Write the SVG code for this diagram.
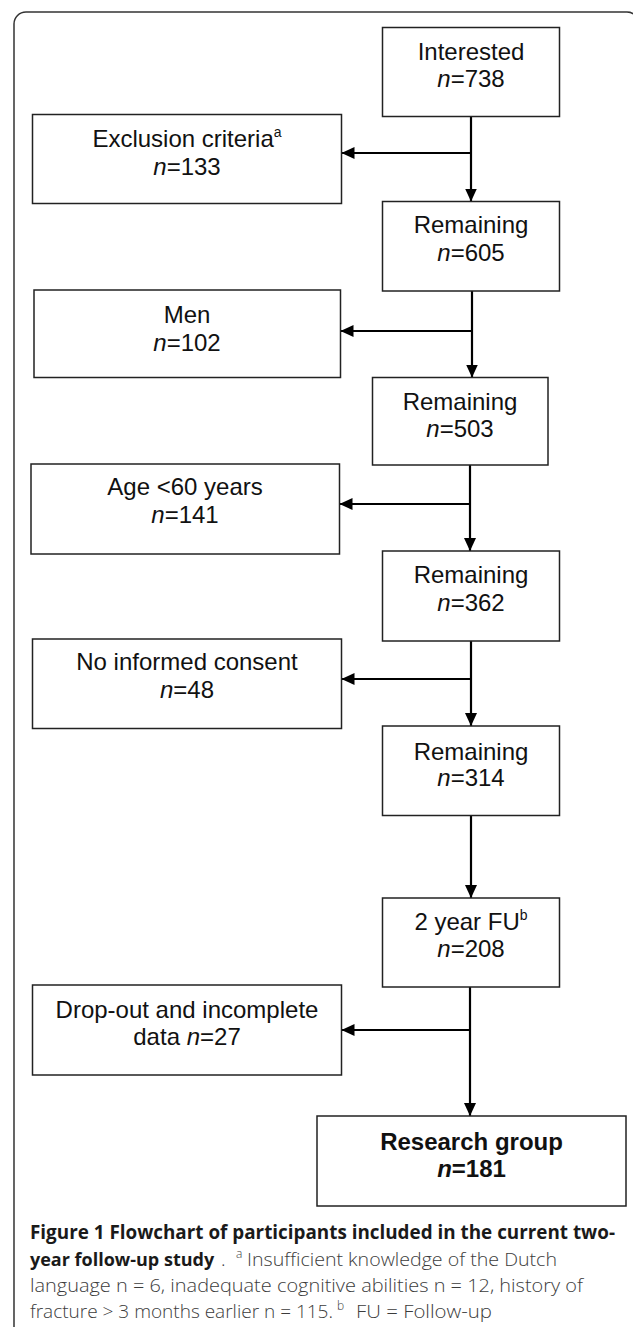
<svg xmlns="http://www.w3.org/2000/svg" width="633" height="1327" viewBox="0 0 633 1327">
<defs>
<style>
.box{fill:#fff;stroke:#222;stroke-width:1.5}
.t{font-family:"Liberation Sans",Arial,sans-serif;font-size:24px;fill:#111;text-anchor:middle}
.i{font-style:italic}
.sup{font-size:14px}
.b{font-weight:bold}
.conn line{stroke:#000;stroke-width:2.2}
.cap{font-family:"Open Sans","Noto Sans",sans-serif;font-size:19px}
.capb{font-weight:bold;fill:#1a1a1a}
.capr{font-weight:300;fill:#3c3c3c}
</style>
<marker id="ah" markerUnits="userSpaceOnUse" markerWidth="14" markerHeight="14" refX="13" refY="6" orient="auto">
<path d="M0,0 L13,6 L0,12 Z" fill="#000"/>
</marker>
</defs>
<rect x="14" y="12" width="625" height="1400" rx="12" fill="none" stroke="#333" stroke-width="1.5"/>
<g class="conn">
<line x1="471" y1="117" x2="471" y2="201.5" marker-end="url(#ah)"/>
<line x1="471" y1="153" x2="341.5" y2="153" marker-end="url(#ah)"/>
<line x1="472" y1="291" x2="472" y2="377.5" marker-end="url(#ah)"/>
<line x1="472" y1="331" x2="340.5" y2="331" marker-end="url(#ah)"/>
<line x1="470" y1="465" x2="470" y2="551" marker-end="url(#ah)"/>
<line x1="470" y1="504" x2="339.5" y2="504" marker-end="url(#ah)"/>
<line x1="471" y1="641" x2="471" y2="726" marker-end="url(#ah)"/>
<line x1="471" y1="679" x2="341.5" y2="679" marker-end="url(#ah)"/>
<line x1="471" y1="816" x2="471" y2="898" marker-end="url(#ah)"/>
<line x1="470" y1="987" x2="470" y2="1116" marker-end="url(#ah)"/>
<line x1="470" y1="1030" x2="341.5" y2="1030" marker-end="url(#ah)"/>
</g>
<g id="interested">
<rect class="box" x="382.5" y="27.5" width="177" height="89"/>
<text class="t" x="471" y="60">Interested</text>
<text class="t" x="471" y="87"><tspan class="i">n</tspan>=738</text>
</g>
<g id="exclusion">
<rect class="box" x="32.5" y="114.5" width="309" height="89"/>
<text class="t" x="187" y="147">Exclusion criteria<tspan class="sup" dy="-10">a</tspan></text>
<text class="t" x="187" y="175"><tspan class="i">n</tspan>=133</text>
</g>
<g id="remaining605">
<rect class="box" x="382.5" y="201.5" width="177" height="89.5"/>
<text class="t" x="471" y="233">Remaining</text>
<text class="t" x="471" y="261"><tspan class="i">n</tspan>=605</text>
</g>
<g id="men">
<rect class="box" x="34" y="290" width="306.5" height="87.5"/>
<text class="t" x="187" y="323">Men</text>
<text class="t" x="187" y="351"><tspan class="i">n</tspan>=102</text>
</g>
<g id="remaining503">
<rect class="box" x="372.5" y="377.5" width="175.5" height="87.5"/>
<text class="t" x="460" y="410">Remaining</text>
<text class="t" x="460" y="437"><tspan class="i">n</tspan>=503</text>
</g>
<g id="age">
<rect class="box" x="31" y="464" width="308.5" height="90"/>
<text class="t" x="185" y="495">Age &lt;60 years</text>
<text class="t" x="185" y="523"><tspan class="i">n</tspan>=141</text>
</g>
<g id="remaining362">
<rect class="box" x="382.5" y="551" width="177" height="90"/>
<text class="t" x="471" y="583">Remaining</text>
<text class="t" x="471" y="611"><tspan class="i">n</tspan>=362</text>
</g>
<g id="consent">
<rect class="box" x="32.5" y="639" width="309" height="89.5"/>
<text class="t" x="187" y="670">No informed consent</text>
<text class="t" x="187" y="698"><tspan class="i">n</tspan>=48</text>
</g>
<g id="remaining314">
<rect class="box" x="382.5" y="726" width="177" height="89.5"/>
<text class="t" x="471" y="760">Remaining</text>
<text class="t" x="471" y="786"><tspan class="i">n</tspan>=314</text>
</g>
<g id="fu2">
<rect class="box" x="382.5" y="898" width="177" height="89"/>
<text class="t" x="471" y="930">2 year FU<tspan class="sup" dy="-10">b</tspan></text>
<text class="t" x="471" y="957"><tspan class="i">n</tspan>=208</text>
</g>
<g id="dropout">
<rect class="box" x="32.5" y="985" width="309" height="90"/>
<text class="t" x="187" y="1018">Drop-out and incomplete</text>
<text class="t" x="187" y="1045">data <tspan class="i">n</tspan>=27</text>
</g>
<g id="research">
<rect class="box" x="317" y="1116" width="309" height="90"/>
<text class="t b" x="471.5" y="1150">Research group</text>
<text class="t b" x="471.5" y="1177"><tspan class="i">n</tspan>=181</text>
</g>
<g id="caption" class="cap">
<text class="capb" x="30" y="1239" textLength="585" lengthAdjust="spacingAndGlyphs">Figure 1 Flowchart of participants included in the current two-</text>
<text class="capb" x="30" y="1266" font-size="18">year follow-up study</text>
<text class="capr" x="221" y="1266">.</text>
<text class="capr" x="236" y="1258" font-size="12">a</text>
<text class="capr" x="247" y="1266" textLength="310" lengthAdjust="spacingAndGlyphs">Insufficient knowledge of the Dutch</text>
<text class="capr" x="30" y="1292" textLength="553" lengthAdjust="spacingAndGlyphs">language n = 6, inadequate cognitive abilities n = 12, history of</text>
<text class="capr" x="30" y="1318" textLength="303" lengthAdjust="spacingAndGlyphs">fracture &gt; 3 months earlier n = 115.</text>
<text class="capr" x="337" y="1310" font-size="12">b</text>
<text class="capr" x="356" y="1318" textLength="136" lengthAdjust="spacingAndGlyphs">FU = Follow-up</text>
</g>
</svg>
